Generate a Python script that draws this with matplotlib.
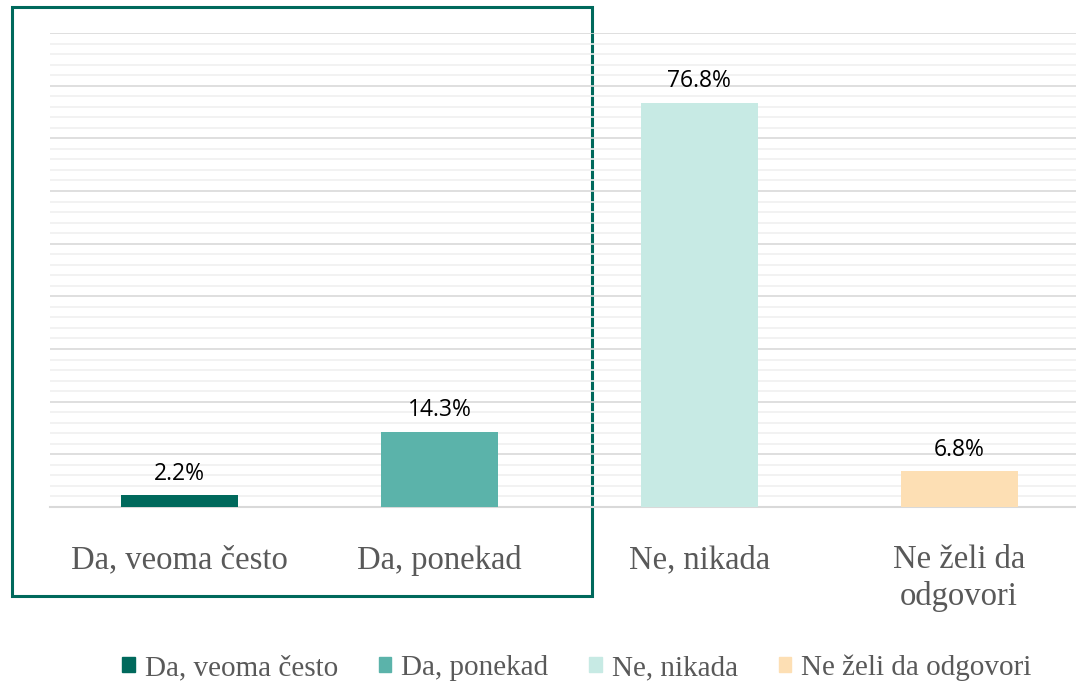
import matplotlib.pyplot as plt
from matplotlib.patches import Rectangle, Patch
from matplotlib.ticker import MultipleLocator

# data
categories = ["Da, veoma često", "Da, ponekad", "Ne, nikada", "Ne želi da\nodgovori"]
legend_labels = ["Da, veoma često", "Da, ponekad", "Ne, nikada", "Ne želi da odgovori"]
values = [2.2, 14.3, 76.8, 6.8]
colors = ["#00695c", "#5bb3aa", "#c7eae4", "#fddfb4"]

W, H = 1076, 685
fig = plt.figure(figsize=(W / 100, H / 100), dpi=100)

# axes placed in pixel coordinates
left, right, top, bottom = 50, 1076, 33, 507
ax = fig.add_axes([left / W, 1 - bottom / H, (right - left) / W, (bottom - top) / H])
ax.set_facecolor("none")

x = range(len(values))
ax.bar(x, values, width=0.45, color=colors, zorder=3)

for xi, v in zip(x, values):
    ax.annotate(f"{v}%", (xi, v), xytext=(0, 11), textcoords="offset points",
                ha="center", va="baseline", fontsize=16.5, family="Open Sans", color="black")

ax.set_xlim(-0.5, 3.45)
ax.set_ylim(0, 90)
ax.yaxis.set_major_locator(MultipleLocator(10))
ax.yaxis.set_minor_locator(MultipleLocator(2))
ax.grid(axis="y", which="major", color="#d9d9d9", lw=1.2, zorder=1)
ax.grid(axis="y", which="minor", color="#f0f0f0", lw=1.2, zorder=1)
ax.tick_params(axis="y", which="both", left=False, labelleft=False)
ax.tick_params(axis="x", length=0, pad=27)
ax.set_xticks(list(x))
ax.set_xticklabels(categories, fontsize=23.5, family="Liberation Serif", color="#595959",
                   va="top", linespacing=1.25)
for s in ["top", "right", "left"]:
    ax.spines[s].set_visible(False)
ax.spines["bottom"].set_color("#d9d9d9")
ax.spines["bottom"].set_linewidth(1.5)

# highlight box around the first two categories (behind the gridlines)
box = Rectangle((12 / W, 1 - 596 / H), (592 - 12) / W, (596 - 7) / H,
                transform=fig.transFigure, fill=False, edgecolor="#00695c",
                lw=2.2, zorder=-1)
fig.patches.append(box)

handles = [Patch(color=c) for c in colors]
fig.legend(handles, legend_labels, loc="center", bbox_to_anchor=(577 / W, 1 - 668 / H),
           ncol=4, frameon=False, prop={"family": "Liberation Serif", "size": 21},
           handlelength=0.42, handleheight=0.42, handletextpad=0.35, columnspacing=1.4,
           labelcolor="#595959")

fig.savefig("out.png", dpi=100)
